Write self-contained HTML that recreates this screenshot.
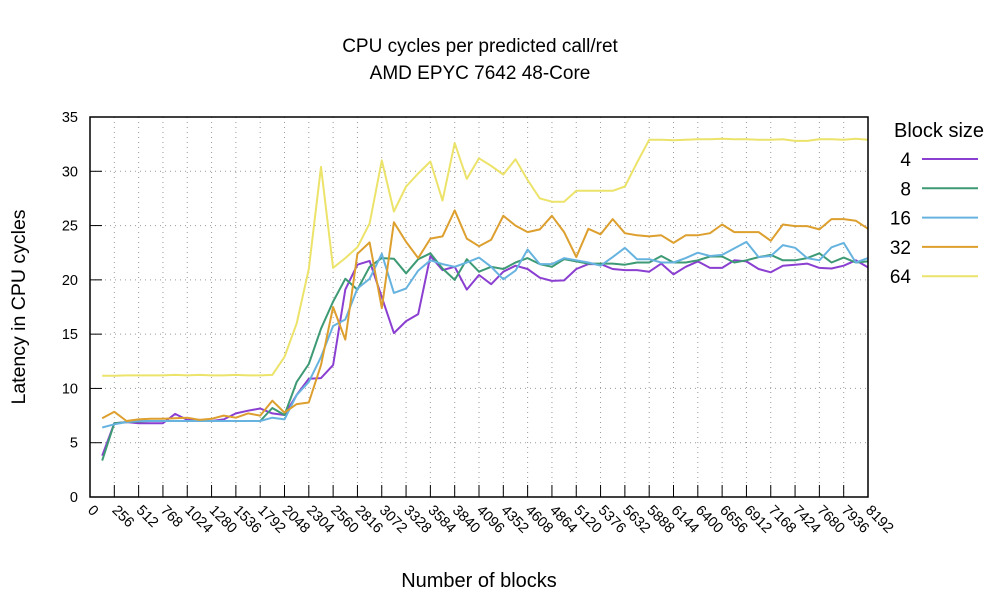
<!DOCTYPE html>
<html><head><meta charset="utf-8"><style>
body{margin:0;background:#fff}
svg{display:block;font-family:"Liberation Sans",sans-serif}
</style></head><body>
<svg id="chart" width="1000" height="600" viewBox="0 0 1000 600">
<text x="480" y="52" font-size="19" text-anchor="middle">CPU cycles per predicted call/ret</text>
<text x="480" y="79" font-size="19" text-anchor="middle">AMD EPYC 7642 48-Core</text>
<text transform="translate(25,307) rotate(-90)" font-size="19.5" text-anchor="middle">Latency in CPU cycles</text>
<text x="479" y="587" font-size="20" text-anchor="middle">Number of blocks</text>
<text x="939" y="137" font-size="20" text-anchor="middle">Block size</text>
<g id="grid"></g><g id="series"></g><g id="axes"></g><g id="legend"></g>
</svg>
<script>
const xs = []; for (let i = 1; i <= 64; i++) xs.push(i * 128);
const xTicks = [0,256,512,768,1024,1280,1536,1792,2048,2304,2560,2816,3072,3328,3584,3840,4096,4352,4608,4864,5120,5376,5632,5888,6144,6400,6656,6912,7168,7424,7680,7936,8192];
const yTicks = [0,5,10,15,20,25,30,35];
const seriesNames = ["4","8","16","32","64"];
const s4 = [3.8,6.8,6.9,6.8,6.8,6.8,7.65,7.1,7.1,7.0,7.15,7.7,7.95,8.15,7.7,7.55,9.4,10.9,10.95,12.15,19.1,21.4,21.75,18.4,15.1,16.2,16.85,22.2,20.9,21.2,19.1,20.45,19.6,20.75,21.3,21.0,20.2,19.9,19.95,21.0,21.45,21.45,21.0,20.9,20.9,20.75,21.5,20.5,21.2,21.7,21.1,21.1,21.8,21.7,21.0,20.7,21.3,21.4,21.5,21.1,21.05,21.3,21.8,21.15];
const s8 = [3.35,6.8,6.9,6.95,7.0,7.0,7.0,7.0,7.0,7.0,7.0,7.0,7.0,7.0,8.2,7.55,10.6,12.25,15.5,18.0,20.1,19.1,21.2,22.0,21.95,20.6,21.9,22.45,21.05,20.0,21.9,20.75,21.2,21.0,21.6,22.0,21.45,21.2,21.9,21.7,21.5,21.5,21.5,21.4,21.6,21.6,22.2,21.6,21.6,21.8,22.15,22.15,21.6,21.8,22.1,22.3,21.8,21.8,22.0,22.45,21.6,22.05,21.6,21.7];
const s16 = [6.4,6.7,6.9,7.0,7.0,7.0,7.0,7.0,7.0,7.0,7.0,7.0,7.0,7.0,7.3,7.15,9.4,10.6,12.9,15.75,16.35,19.2,20.1,22.4,18.8,19.2,20.85,21.8,21.45,21.2,21.6,22.05,21.2,20.05,20.85,22.8,21.45,21.45,22.0,21.8,21.6,21.3,22.1,22.95,21.9,21.9,21.6,21.6,22.0,22.5,22.2,22.3,22.9,23.5,22.1,22.2,23.2,22.95,22.0,21.8,23.0,23.4,21.6,22.0];
const s32 = [7.25,7.85,7.0,7.15,7.2,7.2,7.25,7.3,7.1,7.2,7.5,7.3,7.7,7.5,8.87,7.77,8.56,8.7,12.15,17.5,14.5,22.4,23.45,17.4,25.3,23.5,22.0,23.8,24.0,26.4,23.8,23.1,23.7,25.9,25.0,24.4,24.65,25.9,24.4,22.1,24.7,24.2,25.6,24.3,24.1,24.0,24.1,23.4,24.1,24.1,24.3,25.1,24.4,24.4,24.4,23.6,25.1,24.95,24.95,24.65,25.6,25.6,25.45,24.7];
const s64 = [11.17,11.17,11.2,11.2,11.2,11.2,11.25,11.2,11.25,11.2,11.2,11.25,11.2,11.2,11.25,12.9,16.0,21.0,30.4,21.1,22.0,23.0,25.2,31.0,26.3,28.6,29.8,30.9,27.3,32.6,29.3,31.2,30.5,29.7,31.1,29.2,27.5,27.2,27.2,28.2,28.2,28.2,28.2,28.6,30.8,32.9,32.9,32.85,32.9,32.95,32.95,33.0,32.95,32.95,32.9,32.9,32.95,32.8,32.8,32.95,32.95,32.9,33.0,32.9];
const allSeries = [s4,s8,s16,s32,s64];
const colors = ["#8b3fd1","#3d9a74","#67b3e0","#dd9f2e","#ece36a"];
const NS = "http://www.w3.org/2000/svg";
const L = 90, R = 868, T = 117, B = 497;
const xScale = v => L + (v / 8192) * (R - L);
const yScale = v => B - (v / 35) * (B - T);
function mk(tag, attrs, parent) { const e = document.createElementNS(NS, tag); for (const k in attrs) e.setAttribute(k, attrs[k]); parent.appendChild(e); return e; }
const grid = document.getElementById('grid'), axes = document.getElementById('axes'), ser = document.getElementById('series'), leg = document.getElementById('legend');
xTicks.forEach(t => {
  const x = xScale(t);
  if (t > 0 && t < 8192) {
    const g = mk('line', {x1:x, x2:x, y1:T, y2:B, stroke:'#999', 'stroke-width':1, 'stroke-dasharray':'1,4'}, grid);
    
    
  }
  const tk = mk('line', {x1:x, x2:x, y1:B, y2:B-12, stroke:'#000', 'stroke-width':1}, axes);
  
  
  const lb = mk('text', {transform:`translate(${x-3},${B+14}) rotate(45)`, 'font-size':14.5}, axes);
  lb.textContent = t;
  
  
});
yTicks.forEach(t => {
  const y = yScale(t);
  if (t > 0 && t < 35) {
    const g = mk('line', {x1:L, x2:R, y1:y, y2:y, stroke:'#999', 'stroke-width':1, 'stroke-dasharray':'1,4'}, grid);
    
    
  }
  const tk = mk('line', {x1:L, x2:L+12, y1:y, y2:y, stroke:'#000', 'stroke-width':1}, axes);
  
  
  const lb = mk('text', {x:78, y:y+5, 'font-size':14.5, 'text-anchor':'end'}, axes);
  lb.textContent = t;
  
  
});
const frame = mk('rect', {x:L, y:T, width:R-L, height:B-T, fill:'none', stroke:'#000', 'stroke-width':1.5}, axes);


allSeries.forEach((s, k) => {
  const pts = s.map((v, i) => xScale(xs[i]).toFixed(1) + ',' + yScale(v).toFixed(1)).join(' ');
  const pl = mk('polyline', {points:pts, fill:'none', stroke:colors[k], 'stroke-width':2, 'stroke-linejoin':'round'}, ser);
  
  
  const ly = 159 + k * 29.3;
  const lt = mk('text', {x:911, y:ly + 7, 'font-size':19, 'text-anchor':'end'}, leg);
  lt.textContent = seriesNames[k];
  
  
  const ll = mk('line', {x1:922, x2:978, y1:ly, y2:ly, stroke:colors[k], 'stroke-width':2}, leg);
  
  
});
</script>
</body></html>
